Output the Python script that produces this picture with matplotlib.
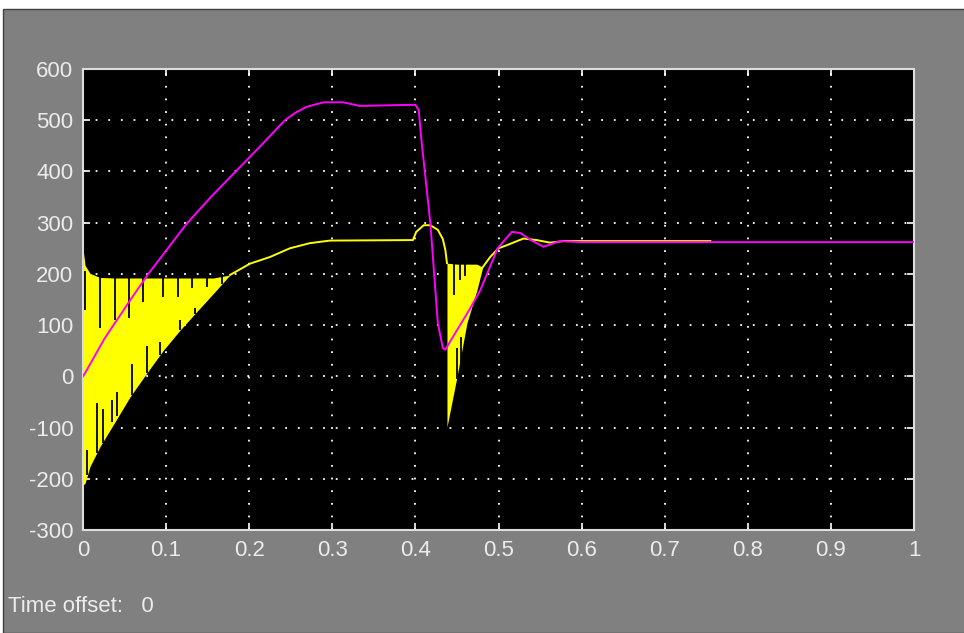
import numpy as np
import matplotlib
matplotlib.use("Agg")
import matplotlib.pyplot as plt
from matplotlib import font_manager

# magenta trace (speed)
mag_t = [0.0, 0.0024, 0.026, 0.057, 0.0786, 0.1248, 0.155, 0.185, 0.215, 0.243, 0.256,
         0.269, 0.28, 0.29, 0.313, 0.333, 0.394, 0.400, 0.404, 0.407, 0.418, 0.427, 0.433,
         0.436, 0.45, 0.465, 0.478, 0.499, 0.516, 0.526, 0.54, 0.554, 0.574, 0.6, 1.0]
mag_v = [0.0, 6, 74, 149, 200, 298, 352, 402, 452, 500, 515,
         526, 531, 535, 535, 528, 530, 530, 520, 465, 299, 104, 55,
         52, 90, 130, 168, 250, 282, 280, 265, 253, 264, 262, 262]

# yellow trace (torque), single line parts
yel_t1 = [0.177, 0.201, 0.225, 0.249, 0.273, 0.297, 0.397, 0.401, 0.41, 0.418, 0.427, 0.433, 0.436, 0.438]
yel_v1 = [198, 220, 233, 250, 260, 265, 266, 282, 295, 295, 286, 268, 247, 221]
yel_t2 = [0.481, 0.49, 0.50, 0.51, 0.53, 0.546, 0.562, 0.578, 0.6, 0.755]
yel_v2 = [213, 233, 250, 256, 269, 266, 261, 264, 264, 264]

# ripple band envelopes
band1_t = [0.0, 0.0024, 0.0084, 0.0205, 0.04, 0.0566, 0.0766, 0.0967, 0.1167, 0.1368, 0.157, 0.177]
band1_hi = [250, 217, 201, 193, 192, 192, 192, 192, 192, 192, 192, 198]
band1_lo = [-212, -209, -176, -137, -85, -40, 6, 51, 90, 126, 162, 198]
band2_t = [0.438, 0.45, 0.462, 0.474, 0.481]
band2_hi = [221, 219, 219, 219, 213]
band2_lo = [-99, -1, 104, 168, 213]

# dark gaps inside the ripple bands (t, from, to)
gap_t = [0.0024, 0.0205, 0.0385, 0.0557, 0.0726, 0.0959, 0.114, 0.1316, 0.149, 0.167,
         0.0052, 0.0164, 0.0237, 0.0353, 0.0405, 0.0586, 0.0766, 0.0927, 0.1167, 0.1348,
         0.446, 0.454, 0.460, 0.45, 0.455, 0.474]
gap_a = [205, 200, 200, 200, 200, 200, 200, 200, 200, 200,
         -192, -150, -130, -90, -78, -36, 6, 42, 90, 122,
         225, 225, 225, -5, 5, 140]
gap_b = [129, 94, 110, 113, 146, 155, 155, 172, 175, 181,
         -144, -53, -63, -46, -30, 25, 59, 68, 110, 133,
         159, 188, 195, 55, 77, 160]

xticks = [0, 0.1, 0.2, 0.3, 0.4, 0.5, 0.6, 0.7, 0.8, 0.9, 1]
xlabels = ["0", "0.1", "0.2", "0.3", "0.4", "0.5", "0.6", "0.7", "0.8", "0.9", "1"]
yticks = [-300, -200, -100, 0, 100, 200, 300, 400, 500, 600]

names = {f.name for f in font_manager.fontManager.ttflist}
fam = "Liberation Sans Narrow" if "Liberation Sans Narrow" in names else "Liberation Sans"
plt.rcParams["font.family"] = [fam, "DejaVu Sans"]
plt.rcParams["axes.unicode_minus"] = False

txt = "#ececec"
fig = plt.figure(figsize=(9.64, 6.33), dpi=100, facecolor="white")
# gray scope panel
fig.patches.append(plt.Rectangle((3 / 964, 0), 1, 1 - 9 / 633, transform=fig.transFigure,
                                 facecolor="#808080", edgecolor="#404040", lw=1, zorder=-10))

ax = fig.add_axes([83 / 964, 1 - 530 / 633, 831 / 964, 461 / 633])
ax.set_facecolor("black")

ax.fill_between(band1_t, band1_lo, band1_hi, color="yellow", lw=0, zorder=2)
ax.fill_between(band2_t, band2_lo, band2_hi, color="yellow", lw=0, zorder=2)
ax.vlines(gap_t, gap_a, gap_b, color="black", lw=1.3, zorder=3)
ax.plot(yel_t1, yel_v1, color="yellow", lw=1.4, zorder=4)
ax.plot(yel_t2, yel_v2, color="yellow", lw=1.4, zorder=4)
ax.plot(mag_t, mag_v, color="#ff00ff", lw=1.4, zorder=5)

ax.set_xlim(0, 1)
ax.set_ylim(-300, 600)
ax.set_xticks(xticks)
ax.set_xticklabels(xlabels)
ax.set_yticks(yticks)
ax.grid(True, color="white", linestyle=(0, (1, 6)), lw=1.3)
ax.tick_params(direction="in", length=5, width=1.2, colors="white", labelcolor=txt,
               labelsize=16, top=True, right=True, pad=7)
for s in ax.spines.values():
    s.set_color("#dddddd")
    s.set_linewidth(1.5)

fig.text(8 / 964, 1 - 607 / 633, "Time offset:   0", color=txt, fontsize=16, va="center", ha="left")

fig.savefig("out.png", dpi=100, facecolor=fig.get_facecolor())
